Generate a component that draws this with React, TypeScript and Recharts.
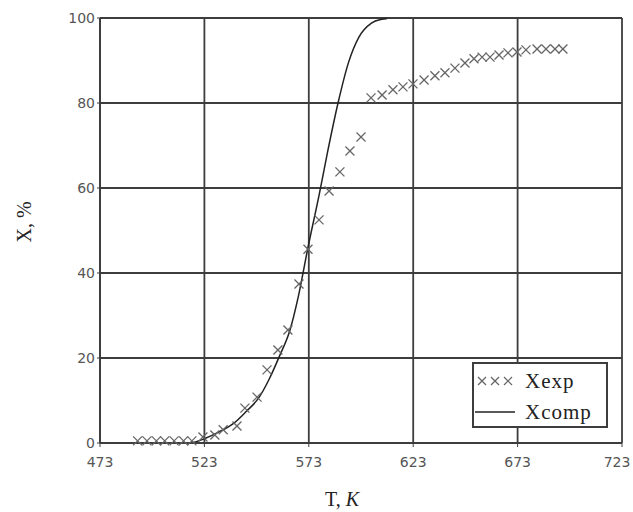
import {
	CartesianGrid,
	ComposedChart,
	Line,
	Scatter,
	XAxis,
	YAxis,
} from 'recharts';

const expT = [
	491, 495.5, 500, 504, 508.5, 513, 517, 522.3, 528, 532, 538.6, 542.4, 548.2, 553, 558.2,
	563, 568.3, 572.6, 577.9, 582.7, 587.9, 592.7, 598, 602.8, 608.1, 613.3, 618.1, 622.9,
	628.2, 633.4, 638.2, 643, 647.8, 652.1, 656, 659.8, 664.1, 668.4, 672.7, 677, 682.3,
	686.6, 690.9, 694.7,
];
const expX = [
	0.5, 0.5, 0.5, 0.5, 0.5, 0.5, 0.5, 1.4, 1.9, 3.1, 4.0, 8.2, 10.8, 17.2, 21.9, 26.6, 37.4,
	45.6, 52.5, 59.3, 63.8, 68.7, 72.0, 81.2, 81.9, 83.1, 83.8, 84.5, 85.4, 86.4, 87.1, 88.2,
	89.4, 90.4, 90.8, 90.8, 91.3, 91.8, 92.0, 92.5, 92.7, 92.7, 92.7, 92.7,
];

// computed curve
const compT = [
	513, 518, 523, 530, 537, 543, 549, 554, 559, 564, 568, 572.6, 578, 582, 587, 592, 597, 603,
	608, 610.5,
];
const compX = [
	0, 0.2, 1.0, 2.6, 4.6, 7.4, 10.6, 15, 20.5, 26.6, 34.5, 46, 58.5, 68.5, 80, 89.5, 95.5, 98.8,
	99.7, 99.9,
];

const xTicks = [473, 523, 573, 623, 673, 723];
const yTicks = [0, 20, 40, 60, 80, 100];

const expData = expT.map((t, i) => ({ T: t, X: expX[i] }));
const compData = compT.map((t, i) => ({ T: t, X: compX[i] }));

const GRID = '#3d3d3d';
const SERIF = '"Liberation Serif", "DejaVu Serif", serif';
const SANS = '"DejaVu Sans", sans-serif';
const tickStyle = { fill: '#555', fontSize: 14, fontFamily: SANS };

function Cross(props: any) {
	const { cx, cy } = props;
	const s = 4.5;
	return (
		<g stroke="#666" strokeWidth={1.3}>
			<line x1={cx - s} y1={cy - s} x2={cx + s} y2={cy + s} />
			<line x1={cx - s} y1={cy + s} x2={cx + s} y2={cy - s} />
		</g>
	);
}

// last label sits against the right edge, nudge it in like the original
function XTick(props: any) {
	const { x, y, payload } = props;
	const last = payload.value === xTicks[xTicks.length - 1];
	return (
		<text
			x={last ? x - 4 : x}
			y={y}
			dy="0.71em"
			textAnchor="middle"
			fill="#555"
			fontSize={14}
			fontFamily={SANS}
		>
			{payload.value}
		</text>
	);
}

export default function App() {
	return (
		<div style={{ position: 'absolute', left: 0, top: 0, width: 633, height: 512, background: '#fff' }}>
			<ComposedChart
				width={633}
				height={512}
				margin={{ top: 18, right: 11, bottom: 0, left: 0 }}
			>
				<CartesianGrid stroke={GRID} strokeWidth={1.8} />
				<XAxis
					type="number"
					dataKey="T"
					domain={[473, 723]}
					ticks={xTicks}
					allowDataOverflow
					height={69}
					tick={<XTick />}
					tickSize={4}
					tickMargin={10}
					tickLine={{ stroke: GRID }}
					axisLine={{ stroke: GRID, strokeWidth: 1.8 }}
					label={{
						content: () => (
							<text x={342} y={506} textAnchor="middle" fontFamily={SERIF} fontSize={20} fill="#222">
								T,{' '}
								<tspan fontStyle="italic">K</tspan>
							</text>
						),
					}}
				/>
				<YAxis
					type="number"
					dataKey="X"
					domain={[0, 100]}
					ticks={yTicks}
					width={100}
					tick={tickStyle}
					tickSize={3}
					tickMargin={2}
					tickLine={{ stroke: GRID }}
					axisLine={{ stroke: GRID, strokeWidth: 1.8 }}
					label={{
						content: () => (
							<text
								x={24}
								y={222}
								textAnchor="middle"
								transform="rotate(-90 24 222)"
								dominantBaseline="central"
								fontFamily={SERIF}
								fontSize={20}
								fill="#222"
							>
								X, %
							</text>
						),
					}}
				/>
				<Line
					data={compData}
					dataKey="X"
					type="monotone"
					stroke="#222"
					strokeWidth={1.5}
					dot={false}
					activeDot={false}
					isAnimationActive={false}
				/>
				<Scatter data={expData} dataKey="X" shape={<Cross />} isAnimationActive={false} />
			</ComposedChart>
			<div
				style={{
					position: 'absolute',
					left: 472,
					top: 362,
					width: 132,
					height: 62,
					border: `2px solid ${GRID}`,
					background: '#fff',
					fontFamily: SERIF,
					fontSize: 21,
					color: '#222',
				}}
			>
				<div style={{ position: 'absolute', left: 0, top: 2, height: 30, display: 'flex', alignItems: 'center' }}>
					<svg width={42} height={14} style={{ marginLeft: 1 }}>
						{[7, 20, 33].map((x) => (
							<g key={x} stroke="#666" strokeWidth={1.2}>
								<line x1={x - 4} y1={3} x2={x + 4} y2={11} />
								<line x1={x - 4} y1={11} x2={x + 4} y2={3} />
							</g>
						))}
					</svg>
					<span style={{ marginLeft: 8, letterSpacing: 1 }}>Xexp</span>
				</div>
				<div style={{ position: 'absolute', left: 0, top: 33, height: 30, display: 'flex', alignItems: 'center' }}>
					<svg width={42} height={14} style={{ marginLeft: 1 }}>
						<line x1={0} y1={7} x2={40} y2={7} stroke="#222" strokeWidth={1.5} />
					</svg>
					<span style={{ marginLeft: 8, letterSpacing: 1 }}>Xcomp</span>
				</div>
			</div>
		</div>
	);
}
